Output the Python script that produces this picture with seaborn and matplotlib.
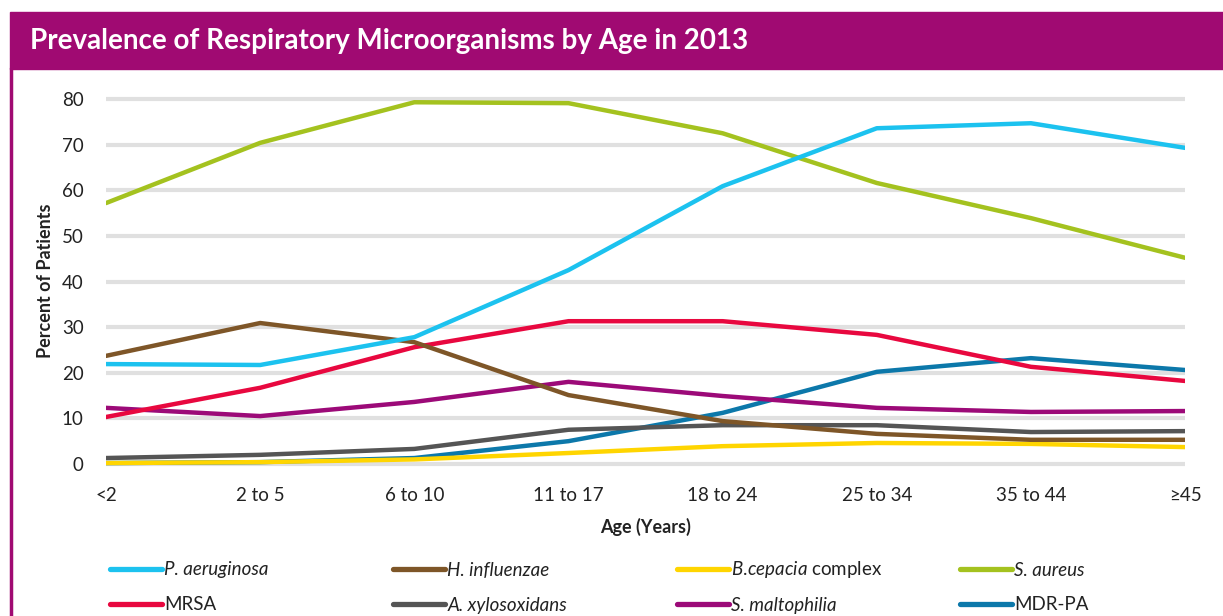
import numpy as np
import pandas as pd
import matplotlib
matplotlib.use("Agg")
import matplotlib.pyplot as plt
from matplotlib.patches import Rectangle
from matplotlib.lines import Line2D
import seaborn as sns

# age groups on the x axis
ages = ["<2", "2 to 5", "6 to 10", "11 to 17", "18 to 24", "25 to 34", "35 to 44", "\u226545"]

# percent of patients
p_aeruginosa = [21.9, 21.7, 27.8, 42.5, 60.9, 73.6, 74.7, 69.3]
h_influenzae = [23.7, 30.9, 26.7, 15.1, 9.4, 6.6, 5.3, 5.3]
b_cepacia = [0.2, 0.4, 1.0, 2.4, 3.9, 4.6, 4.4, 3.7]
s_aureus = [57.2, 70.4, 79.3, 79.1, 72.5, 61.6, 53.9, 45.2]
mrsa = [10.3, 16.7, 25.6, 31.3, 31.3, 28.3, 21.3, 18.2]
a_xylosoxidans = [1.3, 2.0, 3.3, 7.5, 8.5, 8.5, 7.0, 7.2]
s_maltophilia = [12.3, 10.5, 13.6, 18.0, 14.9, 12.3, 11.4, 11.6]
mdr_pa = [0.2, 0.4, 1.3, 5.0, 11.2, 20.2, 23.2, 20.6]

organisms = ["P. aeruginosa", "H. influenzae", "B.cepacia complex", "S. aureus",
             "MRSA", "A. xylosoxidans", "S. maltophilia", "MDR-PA"]
values = [p_aeruginosa, h_influenzae, b_cepacia, s_aureus,
          mrsa, a_xylosoxidans, s_maltophilia, mdr_pa]
colors = ["#1CC2EF", "#7E5628", "#FFD500", "#A4C21F",
          "#E8083F", "#555555", "#9C0A78", "#0C78AA"]
palette = dict(zip(organisms, colors))

rows = []
for name, vals in zip(organisms, values):
    for i, v in enumerate(vals):
        rows.append({"Age": i, "Organism": name, "Percent": v})
df = pd.DataFrame(rows)

sns.set_style("white")
plt.rcParams["font.family"] = ["Lato", "DejaVu Sans"]
plt.rcParams["mathtext.fontset"] = "custom"
plt.rcParams["mathtext.it"] = "Lato:italic"
plt.rcParams["mathtext.rm"] = "Lato"

fig = plt.figure(figsize=(12.23, 6.16), dpi=100)
ax = fig.add_axes([0.0867, 0.2357, 0.8823, 0.6183])

# draw in reverse so the first series ends up on top
for name in organisms[::-1]:
    sns.lineplot(data=df[df["Organism"] == name], x="Age", y="Percent",
                 color=palette[name], linewidth=3.2, ax=ax, legend=False)

ax.set_xlim(0, 7)
ax.set_ylim(-1.5, 82)
ax.set_yticks(range(0, 81, 10))
ax.set_xticks(range(len(ages)))
ax.set_xticklabels(ages)
ax.tick_params(axis="both", labelsize=13.5, colors="#222222", length=0)
ax.tick_params(axis="y", pad=16)
ax.tick_params(axis="x", pad=12)
ax.yaxis.grid(True, color="#E0E0E0", linewidth=3)
ax.set_axisbelow(True)
for s in ax.spines.values():
    s.set_visible(False)

ax.set_xlabel("Age (Years)", fontsize=13, fontweight="bold", color="#222222", labelpad=10)
ax.set_ylabel("Percent of Patients", fontsize=13, fontweight="bold", color="#222222", labelpad=6)

# title band and frame
magenta = "#A00A72"
fig.patches.append(Rectangle((10 / 1223, 1 - 69 / 616), 1, 57 / 616,
                             transform=fig.transFigure, color=magenta, zorder=0))
fig.add_artist(Line2D([11 / 1223, 11 / 1223], [0, 1 - 68 / 616],
                      transform=fig.transFigure, color=magenta, linewidth=2.5))
fig.text(30 / 1223, 1 - 41 / 616, "Prevalence of Respiratory Microorganisms by Age in 2013",
         color="white", fontsize=20, fontweight="bold", va="center", ha="left")

# legend: one small legend per entry, 4 columns x 2 rows
labels = ["P. aeruginosa", "H. influenzae", r"$\it{B.\!cepacia}$ complex", "S. aureus",
          "MRSA", "A. xylosoxidans", "S. maltophilia", "MDR-PA"]
italic = [True, True, False, True, False, True, True, False]
col_x = [110, 393, 677, 960]
row_y = [570, 605]
for i in range(8):
    x = col_x[i % 4]
    y = row_y[i // 4]
    h = Line2D([], [], color=colors[i], linewidth=3.8, solid_capstyle="round")
    leg = fig.legend([h], [labels[i]], loc="center left",
                     bbox_to_anchor=(x / 1223, 1 - y / 616),
                     frameon=False, fontsize=13.5, handlelength=2.75, handletextpad=0.15,
                     borderpad=0, borderaxespad=0, labelcolor="#222222")
    if italic[i]:
        leg.get_texts()[0].set_fontstyle("italic")

fig.savefig("out.png", dpi=100)
